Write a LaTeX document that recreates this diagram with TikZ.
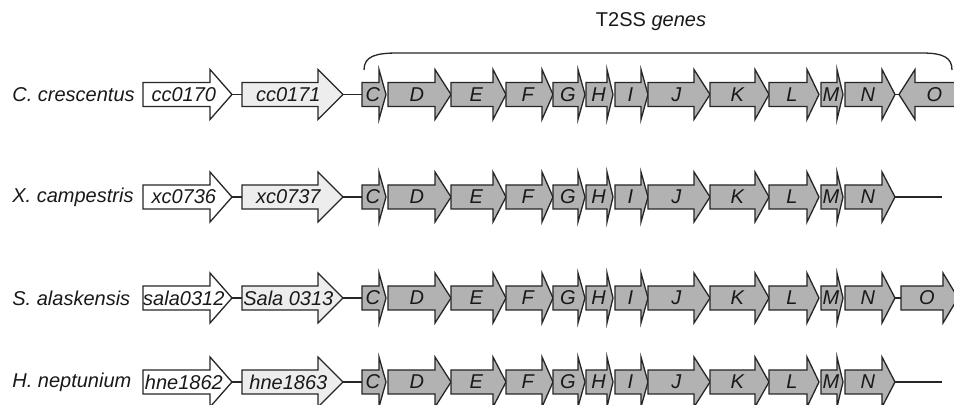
\documentclass[tikz,border=0pt]{standalone}
\usepackage{fontspec}
\setmainfont{Liberation Sans}
\usepackage{tikz}

% forward gene: name, fill style, y, start, head base, tip, label
\newcommand{\genefwd}[7]{%
  \draw[genebox,#2] (#4,#3-12) -- (#5,#3-12) -- (#5,#3-25) -- (#6,#3)
    -- (#5,#3+25) -- (#5,#3+12) -- (#4,#3+12) -- cycle;
  \coordinate (#1-in) at (#4,#3);
  \coordinate (#1-out) at (#6,#3);
  \node[genelbl] (#1) at ({(#4+#6)/2-(#6-#5)/6},#3) {#7};
}
% reverse gene: name, fill style, y, tip, head base, end, label
\newcommand{\generev}[7]{%
  \draw[genebox,#2] (#6,#3-12) -- (#5,#3-12) -- (#5,#3-25) -- (#4,#3)
    -- (#5,#3+25) -- (#5,#3+12) -- (#6,#3+12) -- cycle;
  \coordinate (#1-in) at (#4,#3);
  \node[genelbl] (#1) at ({(#4+#6)/2},#3) {#7};
}

\begin{document}
\begin{tikzpicture}[
  x=0.5pt, y=-0.5pt,
  genebox/.style={draw=black!85, line width=0.65pt, line join=miter},
  flankA/.style={fill=white},
  flankB/.style={fill=black!7},
  t2ss/.style={fill=black!30},
  genelbl/.style={inner sep=0pt, font=\itshape, text=black!90},
  species/.style={anchor=west, inner sep=0pt, font=\itshape, text=black!90},
  link/.style={draw=black!85, line width=0.65pt},
]
\clip (0,0) rectangle (954,405);
\fill[white] (0,0) rectangle (954,405);

% --- header ---
\node[inner sep=0pt, text=black!90] (head) at (651,22) {T2SS \textit{genes}};
\coordinate (brL) at (364,70);
\coordinate (brR) at (952,70);
\draw[link] (brL) .. controls (364,56) and (376,53) .. (398,53)
  -- (922,53) .. controls (944,53) and (952,58) .. (brR);

% --- four loci ---
\foreach \r/\y/\sp/\ga/\gb in {cc/94.5/C. crescentus/cc0170/cc0171,
                               xc/197/X. campestris/xc0736/xc0737,
                               sa/298/S. alaskensis/sala0312/Sala 0313,
                               hn/382/H. neptunium/hne1862/hne1863}{
  \node[species] (\r-sp) at (12,\y) {\sp};
  \genefwd{\r-g1}{flankA}{\y}{143}{210}{232}{\ga}
  \genefwd{\r-g2}{flankB}{\y}{242}{318}{343}{\gb}
  \foreach \g/\a/\b/\c in {C/362/379/386, D/388/435/451, E/451/493/506,
                           F/506/542/553, G/553/578/585, H/586/607/613,
                           I/615/641/648, J/648/694/710, K/710/755/769,
                           L/769/807/819, M/821/837/843, N/845/882/895}{
    \genefwd{\r-\g}{t2ss}{\y}{\a}{\b}{\c}{\g}
  }
  \draw[link] (\r-g1-out) -- (\r-g2-in);
  \draw[link] (\r-g2-out) -- (\r-C-in);
}

% --- right ends ---
\generev{cc-O}{t2ss}{94.5}{899}{915}{970}{O}
\draw[link] (cc-N-out) -- (cc-O-in);
\genefwd{sa-O}{t2ss}{298}{901}{943}{958}{O}
\draw[link] (sa-N-out) -- (sa-O-in);
\coordinate (xc-end) at (942,197);
\draw[link] (xc-N-out) -- (xc-end);
\coordinate (hn-end) at (942,382);
\draw[link] (hn-N-out) -- (hn-end);

\end{tikzpicture}
\end{document}
